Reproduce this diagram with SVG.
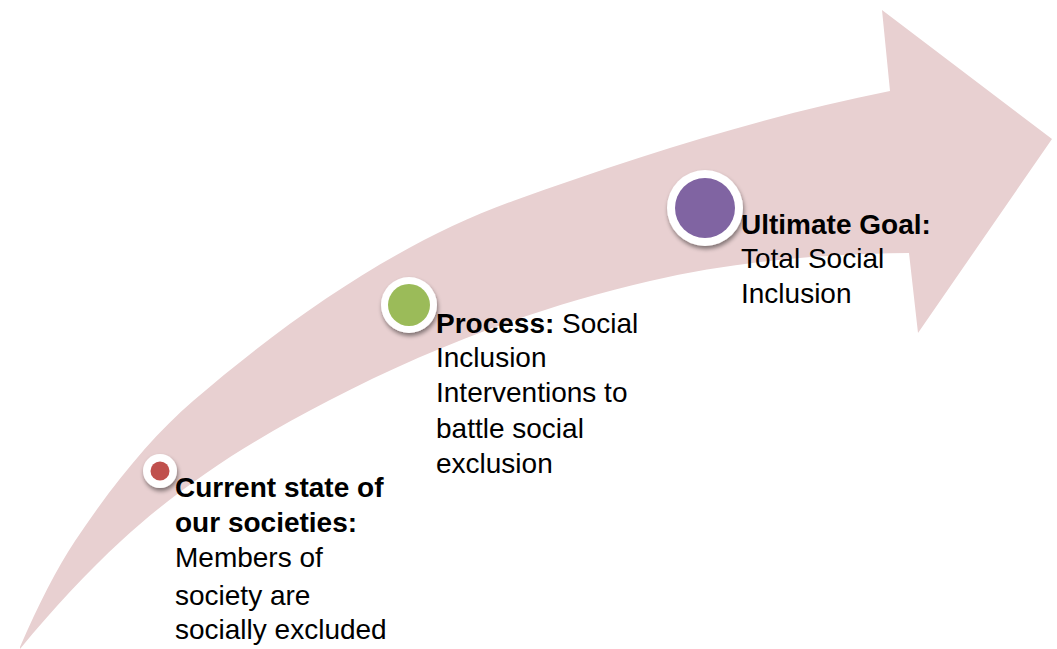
<svg xmlns="http://www.w3.org/2000/svg" width="1057" height="649" viewBox="0 0 1057 649">
<defs>
<filter id="sh" x="-30%" y="-30%" width="160%" height="170%">
<feDropShadow dx="1" dy="3" stdDeviation="2" flood-color="#000" flood-opacity="0.45"/>
</filter>
<style>
.t{font-family:"Liberation Sans",Arial,sans-serif;font-size:28px;fill:#000}
.b{font-weight:bold}
.ring{fill:#fff;filter:url(#sh)}
</style>
</defs>
<rect width="1057" height="649" fill="#fff"/>
<g id="arrow">
<path fill="#E8D0D1" d="M20 647 C38.3 604.8 56.7 568.5 75 541 C114.3 482 153.7 434.8 193 401 C299.7 309.3 406.3 239.4 513 201 C638.7 155.8 764.3 116.1 890 91 L882 10 L1052 139 L918 333 L909 253 C822.7 253.9 736.3 261.1 650 281 C542.7 305.7 435.3 345.2 328 401 C259 436.9 190 477.5 121 541 C87.3 572 53.7 607.9 20 649 Z"/>
</g>
<g id="node-current">
<circle class="ring" cx="160" cy="471" r="17"/>
<circle cx="160" cy="471" r="9.5" fill="#C0504D"/>
<text class="t" x="175" y="497"><tspan class="b">Current state of</tspan><tspan class="b" x="175" y="532">our societies:</tspan><tspan x="175" y="567">Members of</tspan><tspan x="175" y="605">society are</tspan><tspan x="175" y="639">socially excluded</tspan></text>
</g>
<g id="node-process">
<circle class="ring" cx="409" cy="305" r="28"/>
<circle cx="409" cy="305" r="21" fill="#9BBB59"/>
<text class="t" x="436" y="333"><tspan class="b">Process:</tspan> Social<tspan x="436" y="367">Inclusion</tspan><tspan x="436" y="402">Interventions to</tspan><tspan x="436" y="438">battle social</tspan><tspan x="436" y="473">exclusion</tspan></text>
</g>
<g id="node-goal">
<circle class="ring" cx="705" cy="208" r="38"/>
<circle cx="705" cy="208" r="30" fill="#8064A2"/>
<text class="t" x="741" y="234"><tspan class="b">Ultimate Goal:</tspan><tspan x="741" y="268">Total Social</tspan><tspan x="741" y="303">Inclusion</tspan></text>
</g>
<g id="connectors"/>
</svg>
